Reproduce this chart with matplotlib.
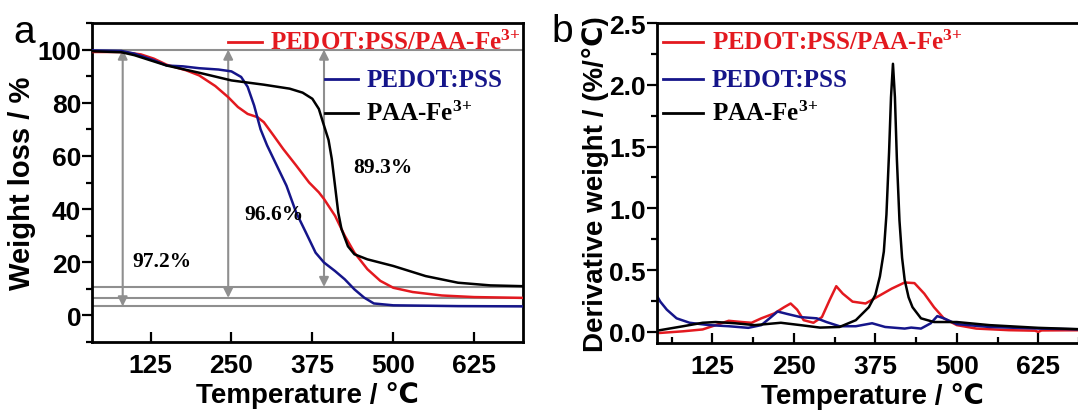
import matplotlib
matplotlib.use("Agg")
import matplotlib.pyplot as plt
from matplotlib.ticker import MultipleLocator

plt.rcParams["font.family"] = ["Liberation Sans", "DejaVu Sans"]
plt.rcParams["mathtext.fontset"] = "custom"
plt.rcParams["mathtext.rm"] = "Liberation Serif:bold"
plt.rcParams["mathtext.bf"] = "Liberation Serif:bold"
plt.rcParams["mathtext.it"] = "Liberation Serif:bold"

RED = "#e3191f"
BLUE = "#15158a"
BLACK = "#000000"
GRAY = "#8f8f8f"

LABELS = ["PEDOT:PSS/PAA-Fe$^{3{+}}$", "PEDOT:PSS", "PAA-Fe$^{3{+}}$"]

# TGA (weight loss, %)
tga_red_T = [33, 80, 110, 130, 150, 180, 200, 225, 245, 260, 275, 290, 300, 315,
             330, 350, 370, 385, 393, 410, 425, 440, 460, 480, 500, 530, 575, 625, 700]
tga_red_w = [99.1, 99.1, 98.2, 96.6, 94.3, 92.2, 90.3, 86.3, 82.1, 78.4, 75.8, 74.6,
             72.7, 67.7, 62.6, 56.4, 50.0, 46.3, 43.8, 37.5, 30.0, 23.6, 17.4, 13.0,
             10.4, 8.8, 7.5, 6.9, 6.6]

tga_blue_T = [33, 80, 100, 130, 150, 175, 200, 230, 250, 265, 275, 285, 295, 305,
              320, 335, 350, 365, 380, 393, 410, 425, 440, 455, 470, 500, 600, 700]
tga_blue_w = [99.7, 99.5, 98.5, 96.0, 94.0, 93.7, 93.0, 92.5, 91.8, 89.7, 86.0, 79.0,
              70.0, 64.0, 56.4, 48.8, 38.7, 31.2, 23.6, 19.9, 16.7, 13.6, 9.8, 6.7,
              4.5, 3.8, 3.5, 3.4]

tga_black_T = [33, 80, 100, 150, 200, 250, 300, 340, 360, 375, 385, 393, 400, 405,
               410, 415, 420, 430, 440, 460, 500, 550, 600, 650, 700]
tga_black_w = [99.4, 99.0, 97.9, 94.0, 91.3, 88.4, 86.8, 85.3, 83.8, 81.5, 77.7, 71.4,
               66.0, 58.9, 48.8, 38.7, 32.5, 26.0, 23.0, 21.1, 18.6, 14.8, 12.3, 11.3,
               11.0]

# residue levels and the marked losses
residues = [10.7, 6.6, 3.4]
arrow_T = [82, 245, 393]
arrow_low = [3.4, 6.6, 10.7]
loss_text = ["97.2%", "96.6%", "89.3%"]
loss_T = [97, 270, 438]
loss_y = [20.4, 38, 56]

# DTG (derivative weight, %/°C)
dtg_red_T = [40, 80, 110, 130, 150, 170, 185, 200, 220, 235, 245, 255, 265, 280, 293,
             305, 315, 325, 340, 360, 380, 400, 420, 435, 450, 465, 480, 500, 530,
             580, 620, 625, 630, 700]
dtg_red_v = [-0.01, 0.005, 0.02, 0.055, 0.09, 0.08, 0.074, 0.11, 0.15, 0.2, 0.23,
             0.18, 0.095, 0.074, 0.12, 0.26, 0.37, 0.31, 0.245, 0.23, 0.29, 0.35, 0.4,
             0.395, 0.31, 0.2, 0.11, 0.055, 0.027, 0.014, 0.01, 0.0, 0.012, 0.014]

dtg_blue_T = [40, 45, 55, 70, 90, 120, 150, 180, 200, 215, 225, 240, 260, 285, 300,
              320, 345, 370, 390, 420, 430, 445, 460, 470, 480, 500, 550, 625, 700]
dtg_blue_v = [0.29, 0.245, 0.18, 0.11, 0.074, 0.055, 0.046, 0.033, 0.055, 0.12, 0.165,
              0.145, 0.12, 0.11, 0.08, 0.046, 0.046, 0.07, 0.04, 0.027, 0.035, 0.027,
              0.07, 0.128, 0.11, 0.063, 0.04, 0.027, 0.02]

dtg_black_T = [40, 80, 110, 130, 160, 190, 230, 260, 290, 320, 345, 365, 375, 382,
               388, 392, 396, 399, 402, 405, 408, 412, 416, 420, 426, 432, 445, 465,
               500, 550, 625, 700]
dtg_black_v = [0.01, 0.046, 0.074, 0.08, 0.07, 0.055, 0.074, 0.055, 0.035, 0.04,
               0.095, 0.2, 0.3, 0.45, 0.65, 0.95, 1.45, 1.9, 2.17, 1.9, 1.4, 0.9, 0.6,
               0.42, 0.28, 0.2, 0.11, 0.08, 0.08, 0.055, 0.033, 0.02]


def style_axes(ax):
    for s in ax.spines.values():
        s.set_linewidth(2.0)
    ax.tick_params(axis="x", which="both", direction="in", top=False,
                   labelsize=19, pad=8, width=1.6)
    ax.tick_params(axis="x", which="major", length=7)
    ax.tick_params(axis="x", which="minor", length=4)
    ax.tick_params(axis="y", which="both", direction="out", right=False,
                   labelsize=19, pad=1, width=1.6)
    ax.tick_params(axis="y", which="major", length=7)
    ax.tick_params(axis="y", which="minor", length=4)
    ax.set_xticks([125, 250, 375, 500, 625])


def bold_ticklabels(ax):
    for lab in ax.get_xticklabels() + ax.get_yticklabels():
        lab.set_fontweight("bold")


def legend_entry(ax, x0, x1, y, color, text):
    ax.plot([x0, x1], [y, y], color=color, lw=2.0, transform=ax.transAxes,
            clip_on=False)
    ax.text(x1 + 0.02, y, text, color=color, transform=ax.transAxes,
            fontsize=18, fontweight="bold", family="Liberation Serif",
            va="center", ha="left")


fig = plt.figure(figsize=(10.78, 4.14), dpi=100)
ax1 = fig.add_axes([0.0856, 0.1715, 0.3993, 0.7705])
ax2 = fig.add_axes([0.6095, 0.169, 0.399, 0.773])

# panel a: TGA
for y in [100] + residues:
    ax1.axhline(y, color=GRAY, lw=1.5, zorder=1)
for T, lo in zip(arrow_T, arrow_low):
    ax1.annotate("", xy=(T, lo), xytext=(T, 100),
                 arrowprops=dict(arrowstyle="<|-|>", color=GRAY, lw=1.5,
                                 mutation_scale=14, shrinkA=0, shrinkB=0),
                 zorder=1)
ax1.plot(tga_red_T, tga_red_w, color=RED, lw=1.8, zorder=3)
ax1.plot(tga_blue_T, tga_blue_w, color=BLUE, lw=1.8, zorder=3)
ax1.plot(tga_black_T, tga_black_w, color=BLACK, lw=1.8, zorder=3)
for txt, T, y in zip(loss_text, loss_T, loss_y):
    ax1.text(T, y, txt, fontsize=15.5, fontweight="bold", family="Liberation Serif",
             ha="left", va="center", zorder=4)

ax1.set_xlim(35, 700)
ax1.set_ylim(-10, 110)
ax1.yaxis.set_minor_locator(MultipleLocator(10))
style_axes(ax1)
ax1.set_yticks([0, 20, 40, 60, 80, 100])
bold_ticklabels(ax1)
ax1.set_xlabel("Temperature / ℃", fontsize=20, fontweight="bold", labelpad=3)
ax1.set_ylabel("Weight loss / %", fontsize=21, fontweight="bold", labelpad=1)

legend_entry(ax1, 0.315, 0.394, 0.940, RED, LABELS[0])
legend_entry(ax1, 0.541, 0.617, 0.824, BLUE, LABELS[1])
legend_entry(ax1, 0.541, 0.617, 0.718, BLACK, LABELS[2])

# panel b: DTG
ax2.plot(dtg_red_T, dtg_red_v, color=RED, lw=1.8)
ax2.plot(dtg_blue_T, dtg_blue_v, color=BLUE, lw=1.8)
ax2.plot(dtg_black_T, dtg_black_v, color=BLACK, lw=1.8)
ax2.set_xlim(40, 700)
ax2.set_ylim(-0.09, 2.5)
ax2.xaxis.set_minor_locator(MultipleLocator(62.5))
ax2.yaxis.set_minor_locator(MultipleLocator(0.25))
style_axes(ax2)
ax2.set_yticks([0.0, 0.5, 1.0, 1.5, 2.0, 2.5])
ax2.set_yticklabels(["0.0", "0.5", "1.0", "1.5", "2.0", "2.5"])
bold_ticklabels(ax2)
ax2.set_xlabel("Temperature / ℃", fontsize=20, fontweight="bold", labelpad=3)
ax2.set_ylabel("Derivative weight / (%/℃)", fontsize=20, fontweight="bold",
               labelpad=0)

legend_entry(ax2, 0.014, 0.107, 0.941, RED, LABELS[0])
legend_entry(ax2, 0.014, 0.107, 0.825, BLUE, LABELS[1])
legend_entry(ax2, 0.014, 0.107, 0.719, BLACK, LABELS[2])

fig.text(24 / 1078, 1 - 33 / 414, "a", fontsize=28, ha="center", va="center")
fig.text(562 / 1078, 1 - 32 / 414, "b", fontsize=28, ha="center", va="center")

fig.savefig("out.png", dpi=100)
